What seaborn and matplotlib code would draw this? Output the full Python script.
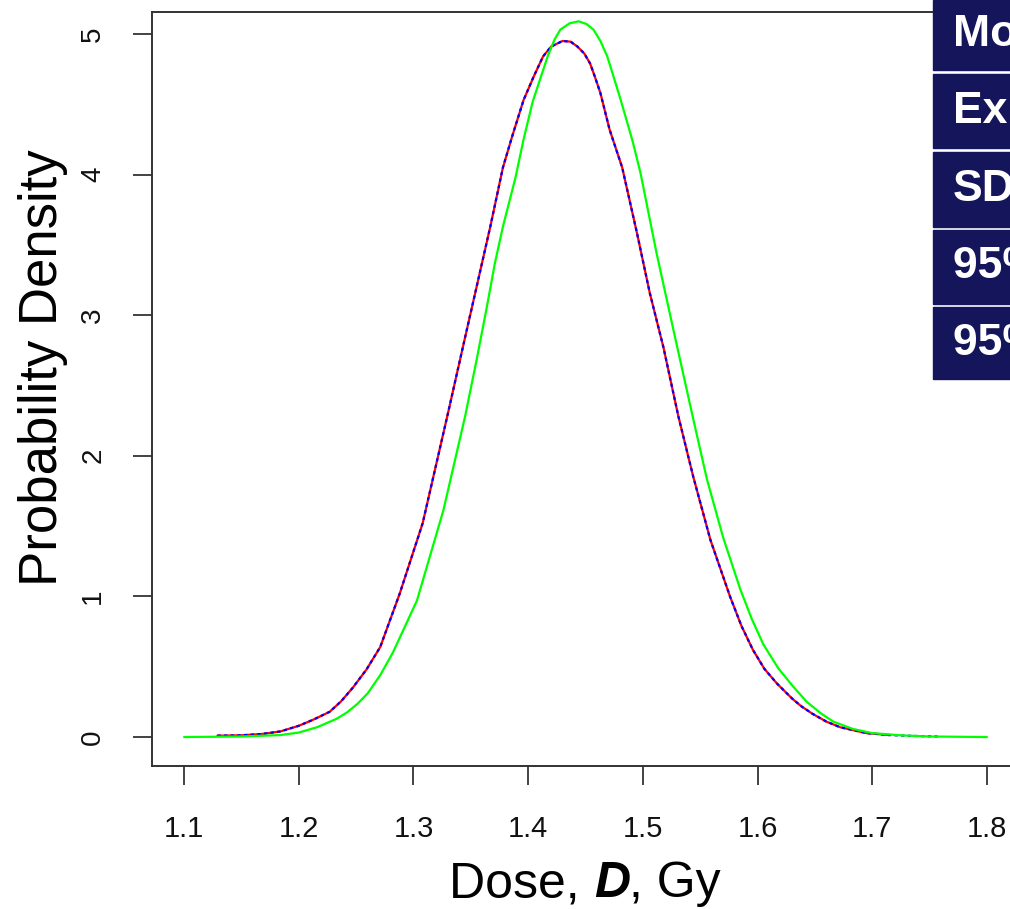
import matplotlib
matplotlib.use("Agg")
import matplotlib.pyplot as plt
import seaborn as sns
from matplotlib.patches import Rectangle

sns.set_style("white")
plt.rcParams['font.family'] = ['Liberation Sans', 'DejaVu Sans']
plt.rcParams['text.color'] = 'black'
plt.rcParams['axes.labelcolor'] = 'black'

# curves (dose in Gy, probability density)
red_x = [1.129, 1.149, 1.168, 1.184, 1.200, 1.213, 1.227, 1.237, 1.247, 1.259,
         1.271, 1.288, 1.308, 1.330, 1.343, 1.355, 1.367, 1.378, 1.386, 1.396,
         1.405, 1.413, 1.420, 1.430, 1.437, 1.443, 1.449, 1.454, 1.458, 1.463,
         1.471, 1.482, 1.495, 1.506, 1.518, 1.531, 1.544, 1.559, 1.576, 1.586,
         1.596, 1.606, 1.617, 1.630, 1.638, 1.648, 1.660, 1.672, 1.695, 1.715]
red_y = [0.010, 0.012, 0.022, 0.040, 0.080, 0.125, 0.180, 0.255, 0.350, 0.480,
         0.640, 1.020, 1.520, 2.300, 2.770, 3.200, 3.630, 4.050, 4.270, 4.530,
         4.700, 4.840, 4.910, 4.950, 4.945, 4.910, 4.860, 4.790, 4.700, 4.580,
         4.320, 4.050, 3.580, 3.160, 2.770, 2.280, 1.850, 1.400, 1.000, 0.790,
         0.620, 0.485, 0.380, 0.275, 0.220, 0.165, 0.110, 0.070, 0.028, 0.014]

blue_x = red_x + [1.735, 1.757]
blue_y = red_y + [0.008, 0.004]

green_x = [1.100, 1.150, 1.184, 1.200, 1.216, 1.233, 1.242, 1.251, 1.260, 1.271,
           1.282, 1.303, 1.326, 1.345, 1.355, 1.364, 1.371, 1.378, 1.389, 1.396,
           1.404, 1.417, 1.423, 1.428, 1.436, 1.444, 1.451, 1.457, 1.463, 1.469,
           1.480, 1.491, 1.498, 1.512, 1.526, 1.544, 1.556, 1.570, 1.585, 1.595,
           1.605, 1.618, 1.631, 1.643, 1.655, 1.666, 1.683, 1.700, 1.725, 1.750,
           1.800]
green_y = [0.000, 0.004, 0.014, 0.032, 0.070, 0.130, 0.175, 0.235, 0.310, 0.440,
           0.600, 0.970, 1.610, 2.280, 2.680, 3.060, 3.370, 3.630, 3.980, 4.250,
           4.520, 4.840, 4.960, 5.030, 5.075, 5.090, 5.070, 5.030, 4.950, 4.840,
           4.550, 4.240, 4.010, 3.440, 2.920, 2.260, 1.830, 1.420, 1.050, 0.840,
           0.660, 0.490, 0.360, 0.250, 0.170, 0.110, 0.058, 0.028, 0.012, 0.004,
           0.000]

x_ticks = [1.1, 1.2, 1.3, 1.4, 1.5, 1.6, 1.7, 1.8]
y_ticks = [0, 1, 2, 3, 4, 5]
table_labels = ["Mode", "Expectation", "SD", "95% lower", "95% upper"]

fig = plt.figure(figsize=(10.10, 9.09), dpi=100)
ax = fig.add_axes([0.1505, 0.1573, 0.8584, 0.8295])

sns.lineplot(x=red_x, y=red_y, color="#ff0000", lw=1.6, sort=False, ax=ax)
sns.lineplot(x=blue_x, y=blue_y, color="#0000ff", lw=1.6, sort=False, ax=ax,
             dashes=False, linestyle=(0, (1.5, 1.5)))
sns.lineplot(x=green_x, y=green_y, color="#00ff00", lw=1.6, sort=False, ax=ax)

ax.set_xlim(1.072, 1.828)
ax.set_ylim(-0.206, 5.156)
ax.set_xticks(x_ticks)
ax.set_xticklabels([f"{t:.1f}" for t in x_ticks], fontsize=21)
ax.set_yticks(y_ticks)
ax.set_yticklabels([str(t) for t in y_ticks], rotation=90, va="center", fontsize=20)
ax.tick_params(axis="both", direction="out", length=14, width=1.2, color="#222222",
               labelcolor="#111111", left=True, bottom=True)
ax.tick_params(axis="x", pad=21)
ax.tick_params(axis="y", pad=19)
for s in ax.spines.values():
    s.set_color("#333333")
    s.set_linewidth(1.4)
ax.grid(False)

# x label: "Dose, D, Gy" with bold italic D
fig.text(0.588, 0.013, "Dose, ", fontsize=36, ha="right", va="baseline")
fig.text(0.588, 0.013, "D", fontsize=36, ha="left", va="baseline",
         fontweight="bold", fontstyle="italic")
fig.text(0.623, 0.013, ", Gy", fontsize=36, ha="left", va="baseline")

ax.set_ylabel("Probability Density", fontsize=38)
ax.yaxis.set_label_coords(-0.097, 0.528)

# summary table panel, cut off at the right edge
row_tops = [0, 74, 152, 230, 307]
row_bots = [70, 148, 227, 304, 379]
W, H = 1010, 909
for lab, t, b in zip(table_labels, row_tops, row_bots):
    fig.patches.append(Rectangle((933 / W, 1 - b / H), 0.2, (b - t) / H,
                                 transform=fig.transFigure, color="#15155c", zorder=5))
    fig.text(953 / W, 1 - (t + b) / 2 / H, lab, color="white", fontsize=32,
             fontweight="bold", va="center", ha="left", zorder=6)

fig.savefig("out.png", dpi=100)
